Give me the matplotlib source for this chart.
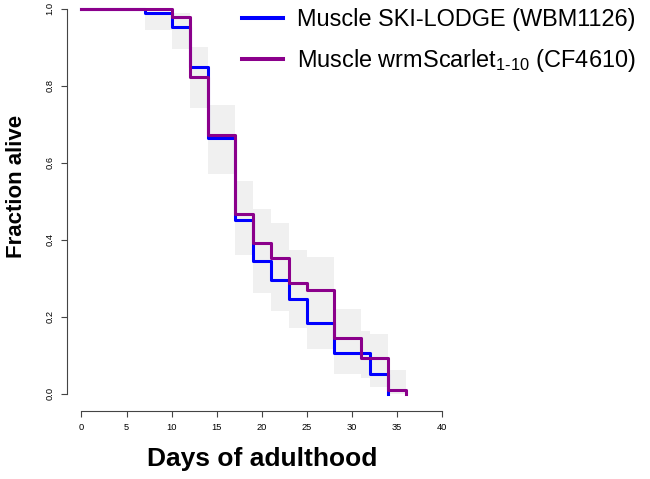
import numpy as np
import matplotlib as mpl
mpl.use('Agg')
import matplotlib.pyplot as plt
from matplotlib.lines import Line2D

plt.rcParams['font.family'] = ['Liberation Sans', 'DejaVu Sans']
plt.rcParams['mathtext.fontset'] = 'custom'
plt.rcParams['mathtext.rm'] = 'Liberation Sans'

# survival curves (Kaplan-Meier steps)
ski_days = [0, 7, 10, 12, 14, 17, 19, 21, 23, 25, 28, 32, 34]
ski_alive = [1.0, 0.99, 0.952, 0.848, 0.665, 0.451, 0.345, 0.295, 0.245, 0.184, 0.105, 0.051, 0.0]

wrm_days = [0, 10, 12, 14, 17, 19, 21, 23, 25, 28, 31, 34, 36]
wrm_alive = [1.0, 0.978, 0.823, 0.672, 0.466, 0.391, 0.352, 0.287, 0.269, 0.146, 0.092, 0.011, 0.0]

# grey confidence band
band_days = [7, 10, 12, 14, 17, 19, 21, 23, 25, 28, 31, 32, 34, 36]
band_lo = [0.945, 0.895, 0.741, 0.572, 0.36, 0.261, 0.215, 0.172, 0.116, 0.051, 0.042, 0.017, 0.0, 0.0]
band_hi = [0.99, 0.99, 0.901, 0.749, 0.552, 0.479, 0.443, 0.373, 0.354, 0.22, 0.163, 0.155, 0.062, 0.062]

x_ticks = [0, 5, 10, 15, 20, 25, 30, 35, 40]
y_ticks = [0.0, 0.2, 0.4, 0.6, 0.8, 1.0]

labels = ['Muscle SKI-LODGE (WBM1126)',
          'Muscle wrmScarlet$_{\\mathregular{1\u201010}}$ (CF4610)']
colors = ['#0000ff', '#8b008b']

W, H = 650, 479
fig = plt.figure(figsize=(W / 100, H / 100), dpi=100)

left, right = 67, 456.7
bottom, top = 410.7, -6.7
ax = fig.add_axes([left / W, 1 - bottom / H, (right - left) / W, (bottom - top) / H])
ax.set_xlim(-1.6, 41.6)
ax.set_ylim(-0.044, 1.04)

ax.fill_between(band_days, band_lo, band_hi, step='post', color='#f0f0f0', lw=0, zorder=1)
ax.step(ski_days, ski_alive, where='post', color=colors[0], lw=2.2, zorder=2)
ax.step(wrm_days, wrm_alive, where='post', color=colors[1], lw=2.2, zorder=3)

for s in ['top', 'right']:
    ax.spines[s].set_visible(False)
ax.spines['left'].set_bounds(0, 1)
ax.spines['bottom'].set_bounds(0, 40)
for s in ['left', 'bottom']:
    ax.spines[s].set_color('#444444')
    ax.spines[s].set_linewidth(0.8)

ax.set_xticks(x_ticks)
ax.set_yticks(y_ticks)
ax.set_yticklabels([f'{v:.1f}' for v in y_ticks], rotation=90, va='center')
ax.tick_params(axis='both', length=4, width=0.8, color='#444444', labelsize=6.7, pad=5)

fig.text(17 / W, 1 - 186 / H, 'Fraction alive', rotation=90, ha='center', va='center',
         fontweight='bold', fontsize=16)
fig.text(261.7 / W, 1 - 459 / H, 'Days of adulthood', ha='center', va='center',
         fontweight='bold', fontsize=19)

handles = [Line2D([], [], color=c, lw=2.9) for c in colors]
fig.legend(handles, labels, loc='upper left', bbox_to_anchor=(241.7 / W, 1 - 8 / H),
           frameon=False, fontsize=16.9, handlelength=1.75, handletextpad=0.62,
           labelspacing=0.68, borderpad=0, borderaxespad=0)

fig.savefig('out.png', dpi=100)
